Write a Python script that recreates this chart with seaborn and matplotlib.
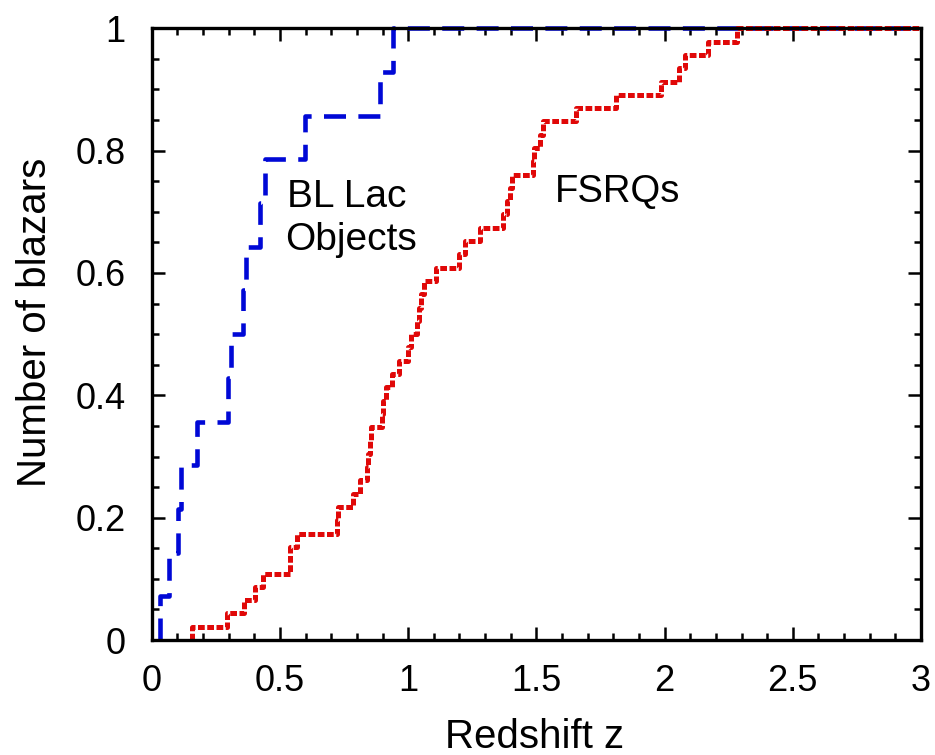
import numpy as np
import pandas as pd
import matplotlib
matplotlib.use("Agg")
import matplotlib.pyplot as plt
import seaborn as sns
from matplotlib.ticker import MultipleLocator, FixedLocator, FixedFormatter

# Redshifts of the two blazar samples (one entry per source)
bllac_z = [0.030, 0.068, 0.103, 0.114, 0.177, 0.298, 0.307, 0.357, 0.366,
           0.422, 0.441, 0.597, 0.890, 0.940]
fsrq_z = [0.158, 0.294, 0.361, 0.404, 0.435, 0.537, 0.540, 0.567, 0.721,
          0.727, 0.786, 0.813, 0.840, 0.845, 0.850, 0.856, 0.899, 0.900,
          0.914, 0.938, 0.965, 1.000, 1.010, 1.035, 1.043, 1.051, 1.062,
          1.107, 1.200, 1.221, 1.280, 1.370, 1.386, 1.397, 1.405, 1.487,
          1.491, 1.513, 1.526, 1.654, 1.812, 1.985, 2.056, 2.079, 2.170,
          2.283]

x_ticks = [0, 0.5, 1, 1.5, 2, 2.5, 3]
x_tick_labels = ["0", "0.5", "1", "1.5", "2", "2.5", "3"]
y_ticks = [0, 0.2, 0.4, 0.6, 0.8, 1]
y_tick_labels = ["0", "0.2", "0.4", "0.6", "0.8", "1"]
z_max = 3.0


def cumulative_steps(z, name):
    """Step coordinates of the normalised cumulative distribution."""
    z = sorted(z)
    n = len(z)
    xs = [z[0]] + z + [z_max]
    ys = [0.0] + [k / n for k in range(1, n + 1)] + [1.0]
    return pd.DataFrame({"z": xs, "frac": ys, "sample": name})


bl_df = cumulative_steps(bllac_z, "BL Lac")
fs_df = cumulative_steps(fsrq_z, "FSRQ")

sns.set_style("ticks")
plt.rcParams["font.family"] = ["Liberation Sans", "DejaVu Sans"]
plt.rcParams["text.color"] = "black"

fig = plt.figure(figsize=(9.35, 7.55), dpi=100)
ax = fig.add_axes([0.1624, 0.1523, 0.8226, 0.8102])

sns.lineplot(data=bl_df, x="z", y="frac", estimator=None, sort=False,
             drawstyle="steps-post", color="#0008d6", lw=3.3,
             linestyle=(0, (4.8, 2.7)), dash_capstyle="butt",
             clip_on=False, ax=ax)
sns.lineplot(data=fs_df, x="z", y="frac", estimator=None, sort=False,
             drawstyle="steps-post", color="#e00808", lw=3.6,
             linestyle=(0, (1.35, 0.5)), dash_capstyle="butt",
             clip_on=False, ax=ax)

ax.set_xlim(0, 3)
ax.set_ylim(0, 1)
ax.xaxis.set_major_locator(FixedLocator(x_ticks))
ax.xaxis.set_major_formatter(FixedFormatter(x_tick_labels))
ax.yaxis.set_major_locator(FixedLocator(y_ticks))
ax.yaxis.set_major_formatter(FixedFormatter(y_tick_labels))
ax.xaxis.set_minor_locator(MultipleLocator(0.1))
ax.yaxis.set_minor_locator(MultipleLocator(0.05))

ax.tick_params(which="both", direction="in", top=True, right=True,
               color="black", width=1.8)
ax.tick_params(which="major", length=9.5, labelsize=26,
               labelcolor="black")
ax.tick_params(axis="x", which="major", pad=17)
ax.tick_params(axis="y", which="major", pad=19)
ax.tick_params(which="minor", length=5)
for side in ax.spines.values():
    side.set_linewidth(2.4)
    side.set_color("black")

ax.set_xlabel("Redshift z", fontsize=29, color="black")
ax.set_ylabel("Number of blazars", fontsize=29, color="black")
ax.xaxis.set_label_coords(0.498, -0.128)
ax.yaxis.set_label_coords(-0.127, 0.52)

ax.text(0.527, 0.708, "BL Lac", fontsize=28, va="baseline", ha="left")
ax.text(0.520, 0.638, "Objects", fontsize=28, va="baseline", ha="left")
ax.text(1.572, 0.716, "FSRQs", fontsize=27.5, va="baseline", ha="left")

fig.savefig("out.png", dpi=100)
